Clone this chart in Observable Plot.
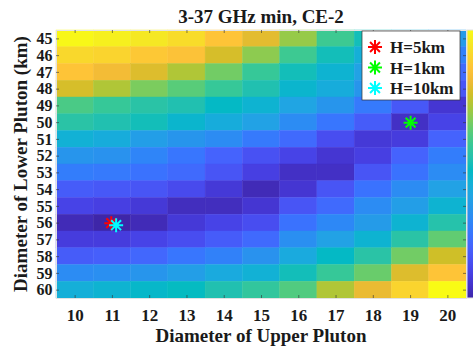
<!DOCTYPE html>
<html>
<head>
<meta charset="utf-8">
<script src="https://cdn.jsdelivr.net/npm/d3@7"></script>
<script src="https://cdn.jsdelivr.net/npm/@observablehq/plot@0.6"></script>
<style>
  html, body { margin: 0; padding: 0; background: #fff; }
  #chart { width: 473px; height: 352px; }
</style>
</head>
<body>
<div id="chart"></div>
<script>
// Diameter of Upper Pluton (x) and Lower Pluton (y)
const upperDiam = [10, 11, 12, 13, 14, 15, 16, 17, 18, 19, 20];
const lowerDiam = [45, 46, 47, 48, 49, 50, 51, 52, 53, 54, 55, 56, 57, 58, 59, 60];

// Normalized misfit values (rows = lower diameter 45..60, cols = upper 10..20)
const row45 = [0.99, 0.97, 0.95, 0.92, 0.86, 0.79, 0.69, 0.58, 0.50, 0.42, 0.35];
const row46 = [0.91, 0.90, 0.87, 0.85, 0.77, 0.68, 0.58, 0.50, 0.42, 0.34, 0.27];
const row47 = [0.86, 0.82, 0.78, 0.72, 0.65, 0.57, 0.50, 0.44, 0.37, 0.29, 0.21];
const row48 = [0.77, 0.72, 0.66, 0.62, 0.57, 0.52, 0.45, 0.41, 0.33, 0.24, 0.15];
const row49 = [0.60, 0.57, 0.54, 0.52, 0.47, 0.44, 0.38, 0.33, 0.25, 0.16, 0.06];
const row50 = [0.54, 0.52, 0.50, 0.45, 0.41, 0.37, 0.30, 0.24, 0.17, 0.04, 0.10];
const row51 = [0.43, 0.41, 0.36, 0.33, 0.30, 0.25, 0.21, 0.13, 0.07, 0.08, 0.19];
const row52 = [0.33, 0.32, 0.28, 0.24, 0.19, 0.14, 0.10, 0.06, 0.09, 0.19, 0.26];
const row53 = [0.26, 0.25, 0.23, 0.21, 0.15, 0.09, 0.04, 0.04, 0.15, 0.23, 0.30];
const row54 = [0.17, 0.16, 0.15, 0.12, 0.07, 0.02, 0.06, 0.15, 0.23, 0.30, 0.37];
const row55 = [0.10, 0.09, 0.07, 0.03, 0.03, 0.06, 0.15, 0.21, 0.30, 0.36, 0.44];
const row56 = [0.02, 0.00, 0.02, 0.07, 0.10, 0.13, 0.23, 0.29, 0.35, 0.44, 0.53];
const row57 = [0.08, 0.08, 0.10, 0.13, 0.17, 0.21, 0.31, 0.37, 0.44, 0.54, 0.63];
const row58 = [0.17, 0.18, 0.20, 0.24, 0.27, 0.32, 0.40, 0.47, 0.54, 0.65, 0.76];
const row59 = [0.30, 0.31, 0.33, 0.36, 0.40, 0.43, 0.50, 0.57, 0.64, 0.78, 0.86];
const row60 = [0.42, 0.44, 0.46, 0.48, 0.52, 0.56, 0.61, 0.72, 0.80, 0.90, 1.00];
const valueRows = [row45, row46, row47, row48, row49, row50, row51, row52,
                   row53, row54, row55, row56, row57, row58, row59, row60];

// Best-fit markers
const markerLabels = ["H=5km", "H=1km", "H=10km"];
const markerColors = ["#ff0000", "#00ff00", "#00ffff"];
const markerX = [10.97, 19, 11.1];
const markerY = [56, 50, 56.12];

const titleText = "3-37 GHz min, CE-2";
const xLabel = "Diameter of Upper Pluton";
const yLabel = "Diameter of Lower Pluton (km)";

// MATLAB parula colormap (sampled)
const parula = [
  [62,38,168], [68,50,203], [71,65,229], [72,82,244], [69,99,253], [56,117,254],
  [46,135,247], [39,150,235], [32,165,227], [18,177,214], [2,186,195], [36,193,174],
  [55,200,151], [87,204,122], [129,204,89], [171,199,57], [209,191,39], [240,186,54],
  [254,195,56], [250,214,45], [245,233,36], [249,251,21]
].map(([r, g, b]) => d3.rgb(r, g, b).formatHex());
const parulaInterp = d3.piecewise(d3.interpolateRgb, parula);

const cells = [];
lowerDiam.forEach((y, i) => upperDiam.forEach((x, j) => cells.push({x, y, v: valueRows[i][j]})));

const markers = markerLabels.map((label, i) => ({label, color: markerColors[i], x: markerX[i], y: markerY[i]}));

const asterisk8 = {
  draw(context, size) {
    const r = Math.sqrt(size / Math.PI);
    for (let i = 0; i < 4; i++) {
      const a = i * Math.PI / 4;
      const dx = r * Math.cos(a), dy = r * Math.sin(a);
      context.moveTo(-dx, -dy);
      context.lineTo(dx, dy);
    }
  }
};

const W = 473, H = 352, mL = 56, mR = 7, mT = 30, mB = 54;
const innerH = H - mT - mB, innerW = W - mL - mR;
const font = "'Liberation Serif', 'Times New Roman', serif";

const chart = Plot.plot({
  width: W, height: H,
  marginLeft: mL, marginRight: mR, marginTop: mT, marginBottom: mB,
  style: {fontFamily: font, fontWeight: "bold", fontSize: "17px", color: "#1a1a1a", background: "white", overflow: "visible"},
  x: {domain: [9.5, 20.5], label: null},
  y: {domain: [44.5, 60.5], reverse: true, label: null},
  color: {type: "linear", domain: [0, 1], interpolate: parulaInterp},
  marks: [
    Plot.rect(cells, {x1: d => d.x - 0.5, x2: d => d.x + 0.5, y1: d => d.y - 0.5, y2: d => d.y + 0.5,
                      fill: "v", stroke: "v", strokeWidth: 0.4}),
    Plot.frame({stroke: "#e2e2e2", strokeWidth: 1}),
    Plot.tickX(upperDiam, {x: d => d, insetTop: innerH - 3, stroke: "#333", strokeWidth: 0.6}),
    Plot.tickX(upperDiam, {x: d => d, insetBottom: innerH - 3, stroke: "#333", strokeWidth: 0.6}),
    Plot.tickY(lowerDiam, {y: d => d, insetRight: innerW - 3, stroke: "#333", strokeWidth: 0.6}),
    Plot.tickY(lowerDiam, {y: d => d, insetLeft: innerW - 3, stroke: "#333", strokeWidth: 0.6}),
    Plot.axisX({ticks: upperDiam, tickFormat: d => d, tickSize: 0, tickPadding: 10, fontSize: 17, fontWeight: "bold", label: null}),
    Plot.axisY({ticks: lowerDiam, tickFormat: d => d, tickSize: 0, tickPadding: 4, fontSize: 16, fontWeight: "bold", label: null}),
    ...markers.map(m => Plot.dot([m], {x: "x", y: "y", symbol: asterisk8, r: 7, fill: "none", stroke: m.color, strokeWidth: 2}))
  ]
});

const svg = d3.select(chart);

// Colorbar (cropped at right edge)
const defs = svg.append("defs");
const grad = defs.append("linearGradient").attr("id", "parulaGrad")
  .attr("x1", 0).attr("y1", 1).attr("x2", 0).attr("y2", 0);
parula.forEach((c, i) => grad.append("stop").attr("offset", i / (parula.length - 1)).attr("stop-color", c));
svg.append("rect").attr("x", 467).attr("y", mT).attr("width", 20).attr("height", innerH)
  .attr("fill", "url(#parulaGrad)").attr("stroke", "#e2e2e2").attr("stroke-width", 1);

// Title and axis labels
const addText = (sel) => sel.style("font-family", font).style("font-weight", "bold").attr("fill", "#1a1a1a");
addText(svg.append("text")).attr("x", mL + innerW / 2).attr("y", 22.5).attr("text-anchor", "middle")
  .style("font-size", "19px").text(titleText);
addText(svg.append("text")).attr("x", mL + innerW / 2).attr("y", 342).attr("text-anchor", "middle")
  .style("font-size", "19px").text(xLabel);
addText(svg.append("text")).attr("transform", `translate(27,${mT + innerH / 2}) rotate(-90)`).attr("text-anchor", "middle")
  .style("font-size", "19px").text(yLabel);

// Legend
const lg = svg.append("g");
lg.append("rect").attr("x", 362).attr("y", 31).attr("width", 98).attr("height", 69)
  .attr("fill", "white").attr("stroke", "#333").attr("stroke-width", 0.7);
const symPath = d3.symbol(asterisk8, Math.PI * 49)();
markers.forEach((m, i) => {
  const cy = 47 + i * 20.5;
  lg.append("path").attr("d", symPath).attr("transform", `translate(375,${cy})`)
    .attr("fill", "none").attr("stroke", m.color).attr("stroke-width", 2);
  addText(lg.append("text")).attr("x", 390).attr("y", cy + 6).attr("text-anchor", "start")
    .style("font-size", "17px").text(m.label);
});

document.getElementById("chart").appendChild(chart);
</script>
</body>
</html>
